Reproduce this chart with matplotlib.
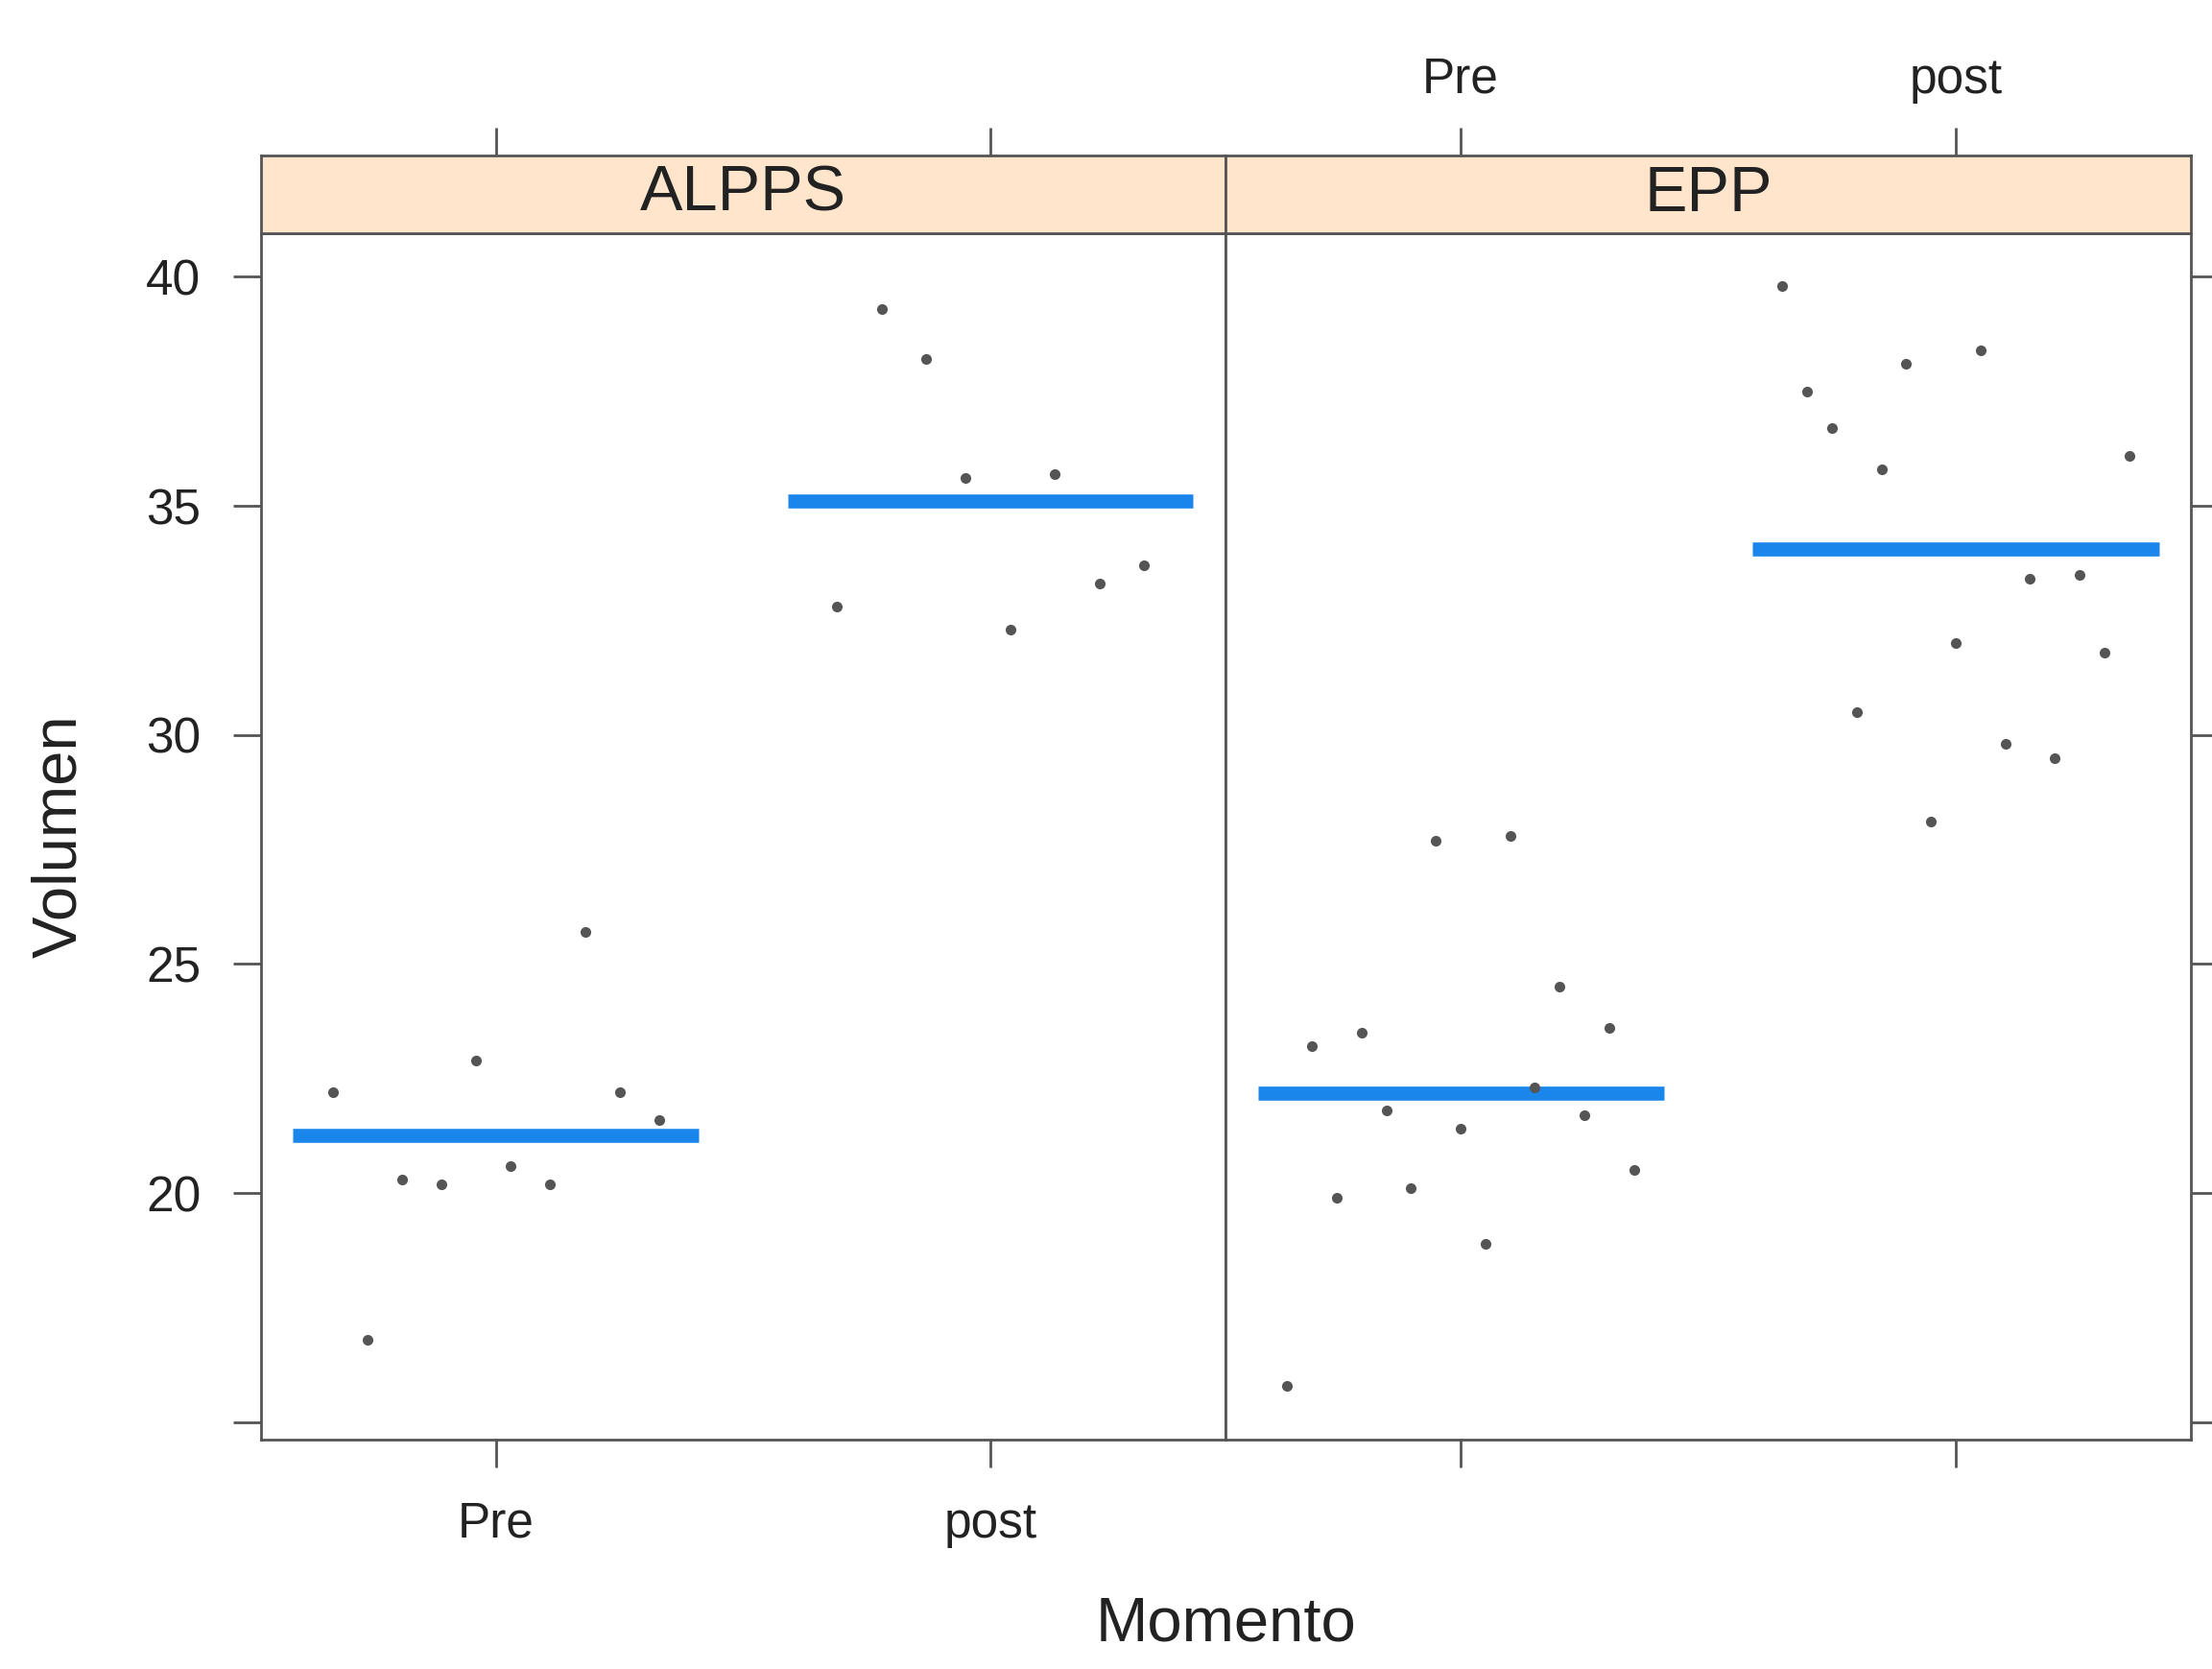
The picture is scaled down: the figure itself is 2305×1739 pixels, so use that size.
import numpy as np
import matplotlib
matplotlib.use("Agg")
import matplotlib.pyplot as plt

# -------------------------------------------------------
# DATA
# -------------------------------------------------------
groups = ["ALPPS", "EPP"]
momentos = ["Pre", "post"]
y_ticks = [15, 20, 25, 30, 35, 40]
y_tick_labels = ["", "20", "25", "30", "35", "40"]

# ALPPS panel
alpps_pre_x = [0.67, 0.74, 0.81, 0.89, 0.96, 1.03, 1.11, 1.18, 1.25, 1.33]
alpps_pre_y = [22.2, 16.8, 20.3, 20.2, 22.9, 20.6, 20.2, 25.7, 22.2, 21.6]
alpps_post_x = [1.69, 1.78, 1.87, 1.95, 2.04, 2.13, 2.22, 2.31]
alpps_post_y = [32.8, 39.3, 38.2, 35.6, 32.3, 35.7, 33.3, 33.7]

# EPP panel
epp_pre_x = [0.65, 0.70, 0.75, 0.80, 0.85, 0.90, 0.95, 1.00,
             1.05, 1.10, 1.15, 1.20, 1.25, 1.30, 1.35]
epp_pre_y = [15.8, 23.2, 19.9, 23.5, 21.8, 20.1, 27.7, 21.4,
             18.9, 27.8, 22.3, 24.5, 21.7, 23.6, 20.5]
epp_post_x = [1.65, 1.70, 1.75, 1.80, 1.85, 1.90, 1.95, 2.00,
              2.05, 2.10, 2.15, 2.20, 2.25, 2.30, 2.35]
epp_post_y = [39.8, 37.5, 36.7, 30.5, 35.8, 38.1, 28.1, 32.0,
              38.4, 29.8, 33.4, 29.5, 33.5, 31.8, 36.1]

# -------------------------------------------------------
# STYLE
# -------------------------------------------------------
plt.rcParams['font.family'] = ['Liberation Sans', 'DejaVu Sans']
FRAME = "#555555"
TEXT = "#222222"
STRIP_BG = "#FFE5CC"
POINT_COL = "#555555"
MEAN_COL = "#1a85ea"
TICK_FS = 37
TICK_LEN = 21

fig = plt.figure(figsize=(23.05, 17.39), dpi=100)

# panel layout in figure fractions
L, M, R = 0.118, 0.554, 0.9905
B, T, S = 0.1374, 0.8603, 0.9068

ax1 = fig.add_axes([L, B, M - L, T - B])
ax2 = fig.add_axes([M, B, R - M, T - B], sharey=ax1)
st1 = fig.add_axes([L, T, M - L, S - T], sharex=ax1)
st2 = fig.add_axes([M, T, R - M, S - T], sharex=ax2)

panels = [
    (ax1, [(alpps_pre_x, alpps_pre_y), (alpps_post_x, alpps_post_y)]),
    (ax2, [(epp_pre_x, epp_pre_y), (epp_post_x, epp_post_y)]),
]

for ax, series in panels:
    for i, (xs, ys) in enumerate(series):
        pos = i + 1
        ax.hlines(np.mean(ys), pos - 0.41, pos + 0.41, color=MEAN_COL,
                  linewidth=10.5, capstyle='butt', zorder=2)
        ax.plot(xs, ys, 'o', color=POINT_COL, markersize=8,
                markeredgewidth=0, zorder=3)
    ax.set_xlim(0.525, 2.475)
    ax.set_ylim(14.62, 40.95)
    for sp in ax.spines.values():
        sp.set_color(FRAME)
        sp.set_linewidth(2)
    ax.tick_params(length=TICK_LEN, width=2, color=FRAME,
                   labelsize=TICK_FS, labelcolor=TEXT, direction='out')

# x ticks: alternating layout like lattice
ax1.set_xticks([1, 2])
ax1.set_xticklabels(momentos)
ax1.tick_params(axis='x', bottom=True, top=False, pad=25)
ax2.set_xticks([1, 2])
ax2.tick_params(axis='x', bottom=True, labelbottom=False, top=False)

# y ticks: labels left on panel 1, bare ticks right on panel 2
ax1.set_yticks(y_ticks)
ax1.set_yticklabels(y_tick_labels)
ax1.tick_params(axis='y', left=True, right=False, pad=24)
ax2.tick_params(axis='y', left=False, labelleft=False, right=True,
                labelright=False)

# strips
for st, name in zip([st1, st2], groups):
    st.set_facecolor(STRIP_BG)
    st.set_ylim(0, 1)
    st.text(1.5, 0.5, name, ha='center', va='center', fontsize=48,
            color=TEXT)
    for sp in st.spines.values():
        sp.set_color(FRAME)
        sp.set_linewidth(2)
    st.tick_params(axis='y', left=False, labelleft=False)
    st.tick_params(axis='x', bottom=False, labelbottom=False, top=True,
                   length=TICK_LEN, width=2, color=FRAME,
                   labelsize=TICK_FS, labelcolor=TEXT, pad=18)

st1.tick_params(axis='x', labeltop=False)
st2.tick_params(axis='x', labeltop=True)
st2.set_xticks([1, 2])
st2.set_xticklabels(momentos)

fig.text(62 / 2305, (B + T) / 2, "Volumen", rotation=90, ha='center',
         va='center', fontsize=47, color=TEXT)
fig.text((L + R) / 2, 1 - 1693 / 1739, "Momento", ha='center',
         va='center', fontsize=47, color=TEXT)

fig.savefig("out.png", dpi=100, facecolor='white')
